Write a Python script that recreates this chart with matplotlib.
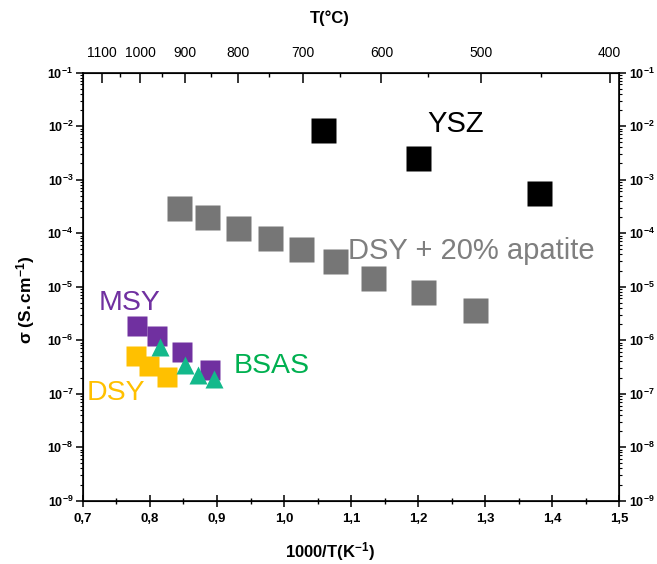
import numpy as np
import matplotlib
matplotlib.use('Agg')
import matplotlib.pyplot as plt
from matplotlib import font_manager
from matplotlib.ticker import MultipleLocator, LogLocator, FixedLocator, FuncFormatter, NullFormatter

# pick a narrow Arial-like face for the tick labels if there is one
names = {f.name for f in font_manager.fontManager.ttflist}
tick_font = 'Liberation Sans Narrow' if 'Liberation Sans Narrow' in names else 'Liberation Sans'

plt.rcParams['font.family'] = ['Liberation Sans', 'DejaVu Sans']
plt.rcParams['mathtext.fontset'] = 'custom'
plt.rcParams['mathtext.rm'] = 'Liberation Sans'
plt.rcParams['mathtext.bf'] = 'Liberation Sans:bold'
plt.rcParams['mathtext.it'] = 'Liberation Sans:italic'

# data: x = 1000/T (K^-1), y = conductivity (S/cm)
ysz_x = [1.058, 1.200, 1.380]
ysz_y = [8.3e-3, 2.5e-3, 5.6e-4]

apatite_x = [0.844, 0.885, 0.931, 0.979, 1.025, 1.076, 1.133, 1.207, 1.285]
apatite_y = [3.0e-4, 2.0e-4, 1.23e-4, 8.1e-5, 5.1e-5, 3.0e-5, 1.45e-5, 7.8e-6, 3.7e-6]

msy_x = [0.781, 0.811, 0.848, 0.890]
msy_y = [1.8e-6, 1.17e-6, 5.9e-7, 2.8e-7]

dsy_x = [0.779, 0.798, 0.826]
dsy_y = [5.1e-7, 3.3e-7, 2.03e-7]

bsas_x = [0.815, 0.853, 0.871, 0.895]
bsas_y = [7.6e-7, 3.4e-7, 2.24e-7, 1.86e-7]

temps_C = [1100, 1000, 900, 800, 700, 600, 500, 400]
temps_minor_C = [1050, 950, 850, 750, 650, 550, 450]

fig = plt.figure(figsize=(6.57, 5.64), dpi=100)
ax = fig.add_axes([0.1262, 0.1122, 0.8164, 0.7592])

ax.plot(apatite_x, apatite_y, 's', ms=18, color='#767676', mec='none', zorder=3)
ax.plot(ysz_x, ysz_y, 's', ms=18, color='black', mec='none', zorder=3)
ax.plot(dsy_x, dsy_y, 's', ms=14.4, color='#FFC000', mec='none', zorder=4)
ax.plot(msy_x, msy_y, 's', ms=14.4, color='#7030A0', mec='none', zorder=5)
ax.plot(bsas_x, bsas_y, '^', ms=12.5, color='#13B98B', mec='none', zorder=6)

ax.text(0.6415, 0.8797, 'YSZ', transform=ax.transAxes, fontsize=21,
        color='black', ha='left', va='center')
ax.text(0.4937, 0.583, 'DSY + 20% apatite', transform=ax.transAxes, fontsize=21,
        color='#7F7F7F', ha='left', va='center', zorder=2)
ax.text(0.0287, 0.461, 'MSY', transform=ax.transAxes, fontsize=20.5,
        color='#7030A0', ha='left', va='center')
ax.text(0.0071, 0.2527, 'DSY', transform=ax.transAxes, fontsize=20.5,
        color='#FFC000', ha='left', va='center')
ax.text(0.2804, 0.3139, 'BSAS', transform=ax.transAxes, fontsize=20.5,
        color='#00B050', ha='left', va='center')

ax.set_xlim(0.7, 1.5)
ax.set_yscale('log')
ax.set_ylim(1e-9, 1e-1)

ax.xaxis.set_major_locator(MultipleLocator(0.1))
ax.xaxis.set_minor_locator(MultipleLocator(0.05))
ax.xaxis.set_major_formatter(FuncFormatter(lambda v, p: f'{v:.1f}'.replace('.', ',')))
ax.xaxis.offsetText.set_visible(False)
ax.yaxis.set_major_locator(LogLocator(base=10, numticks=20))
ax.yaxis.set_minor_locator(LogLocator(base=10, subs=np.arange(2, 10), numticks=20))
ax.yaxis.set_minor_formatter(NullFormatter())
ax.yaxis.set_major_formatter(FuncFormatter(
    lambda v, p: r'$\mathbf{10^{%d}}$' % round(np.log10(v))))

for s in ax.spines.values():
    s.set_linewidth(1.2)
ax.tick_params(axis='x', which='major', direction='inout', length=8, width=1.1,
               top=False, labelsize=9.5, pad=5)
ax.tick_params(axis='x', which='minor', direction='inout', length=5, width=1.0, top=False)
ax.tick_params(axis='y', which='major', direction='out', length=5, width=1.1,
               left=True, right=True, labelleft=True, labelright=True, labelsize=9, pad=2)
ax.tick_params(axis='y', which='minor', direction='out', length=2.5, width=0.8,
               left=True, right=True)
for lab in ax.get_xticklabels():
    lab.set_fontfamily(tick_font)
    lab.set_fontweight('bold')

ax.set_xlabel(r'$\mathbf{1000/T(K^{-1})}$', fontsize=12)
ax.set_ylabel(r'$\mathbf{\sigma\ (S.cm^{-1})}$', fontsize=12.5)
ax.xaxis.set_label_coords(0.46, -0.092)
ax.yaxis.set_label_coords(-0.085, 0.47)

# top axis in degrees Celsius
ax2 = ax.twiny()
ax2.set_xlim(ax.get_xlim())
ax2.xaxis.set_major_locator(FixedLocator([1000 / (t + 273.15) for t in temps_C]))
ax2.xaxis.set_minor_locator(FixedLocator([1000 / (t + 273.15) for t in temps_minor_C]))
ax2.set_xticklabels([str(t) for t in temps_C])
ax2.tick_params(axis='x', which='major', direction='in', length=7, width=1.1,
                labelsize=10, pad=9)
ax2.tick_params(axis='x', which='minor', direction='in', length=3, width=1.0)
for lab in ax2.get_xticklabels():
    lab.set_fontfamily(tick_font)
ax2.set_xlabel('T(°C)', fontsize=12, fontweight='bold')
ax2.xaxis.set_label_coords(0.46, 1.115)

fig.savefig('out.png', dpi=100)
